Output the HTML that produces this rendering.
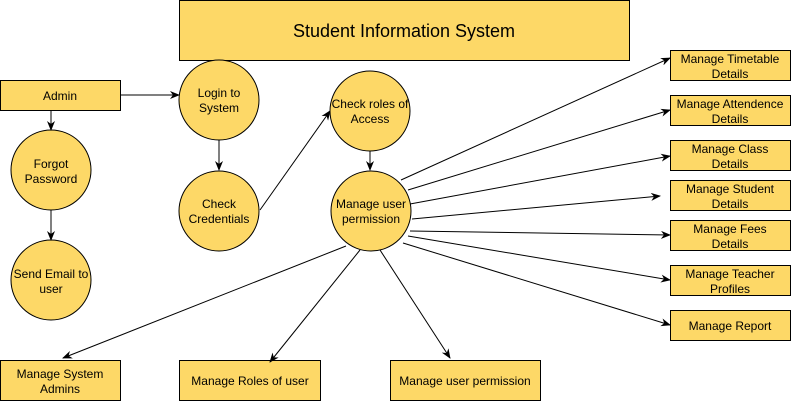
<!DOCTYPE html><html><head><style>body{margin:0;background:#fff}</style></head><body>
<svg width="791" height="401" xmlns="http://www.w3.org/2000/svg" font-family="Liberation Sans, Arial, sans-serif" font-size="12">
<defs><marker id="a" markerWidth="10" markerHeight="8" refX="9" refY="4" orient="auto" markerUnits="userSpaceOnUse"><path d="M0,0 L10,4 L0,8 L3,4z" fill="#000"/></marker></defs>
<g fill="#FDD867" stroke="#000" stroke-width="1">
<rect x="179.5" y="0.5" width="450" height="60"/>
<rect x="0.5" y="80.5" width="120" height="30"/>
<circle cx="219" cy="100" r="40"/><circle cx="219" cy="211" r="40"/>
<circle cx="51" cy="170" r="40"/><circle cx="51" cy="280" r="40"/>
<circle cx="370" cy="111" r="40"/><circle cx="371" cy="211" r="40"/>
<rect x="670.5" y="50.5" width="120" height="30"/><rect x="670.5" y="95.5" width="120" height="30"/>
<rect x="670.5" y="140.5" width="120" height="30"/><rect x="670.5" y="180.5" width="120" height="30"/>
<rect x="670.5" y="220.5" width="120" height="30"/><rect x="670.5" y="265.5" width="120" height="30"/>
<rect x="670.5" y="310.5" width="120" height="30"/>
<rect x="0.5" y="360.5" width="120" height="40"/><rect x="179.5" y="360.5" width="141" height="40"/><rect x="390.5" y="360.5" width="150" height="40"/>
</g>
<g stroke="#000" stroke-width="1" fill="none" marker-end="url(#a)">
<line x1="121" y1="95" x2="179" y2="95"/><line x1="51" y1="111" x2="51" y2="130"/><line x1="51" y1="210" x2="51" y2="240"/>
<line x1="219" y1="140" x2="219" y2="170"/><line x1="260" y1="210" x2="330" y2="111"/><line x1="370" y1="151" x2="370" y2="170"/>
<line x1="401" y1="180" x2="670" y2="58"/><line x1="408" y1="190" x2="670" y2="110"/><line x1="410" y1="204" x2="670" y2="156"/>
<line x1="412" y1="219" x2="660" y2="196"/><line x1="410" y1="231" x2="670" y2="235"/><line x1="408" y1="236" x2="670" y2="280"/>
<line x1="403" y1="243" x2="670" y2="325"/>
<line x1="346" y1="246" x2="63" y2="358"/><line x1="360" y1="250" x2="270" y2="362"/><line x1="380" y1="250" x2="450" y2="358"/>
</g>
<g text-anchor="middle" fill="#000">
<text x="404" y="37" font-size="18">Student Information System</text>
<text x="60" y="100">Admin</text>
<text x="219" y="97">Login to</text><text x="219" y="112">System</text>
<text x="219" y="208">Check</text><text x="219" y="223">Credentials</text>
<text x="51" y="168">Forgot</text><text x="51" y="183">Password</text>
<text x="51" y="278">Send Email to</text><text x="51" y="293">user</text>
<text x="370" y="108">Check roles of</text><text x="370" y="123">Access</text>
<text x="371" y="208">Manage user</text><text x="371" y="223">permission</text>
<text x="730" y="63">Manage Timetable</text><text x="730" y="78">Details</text>
<text x="730" y="108">Manage Attendence</text><text x="730" y="123">Details</text>
<text x="730" y="153">Manage Class</text><text x="730" y="168">Details</text>
<text x="730" y="193">Manage Student</text><text x="730" y="208">Details</text>
<text x="730" y="233">Manage Fees</text><text x="730" y="248">Details</text>
<text x="730" y="278">Manage Teacher</text><text x="730" y="293">Profiles</text>
<text x="730" y="330">Manage Report</text>
<text x="60" y="378">Manage System</text><text x="60" y="393">Admins</text>
<text x="250" y="385">Manage Roles of user</text>
<text x="465" y="385">Manage user permission</text>
</g>
</svg></body></html>
